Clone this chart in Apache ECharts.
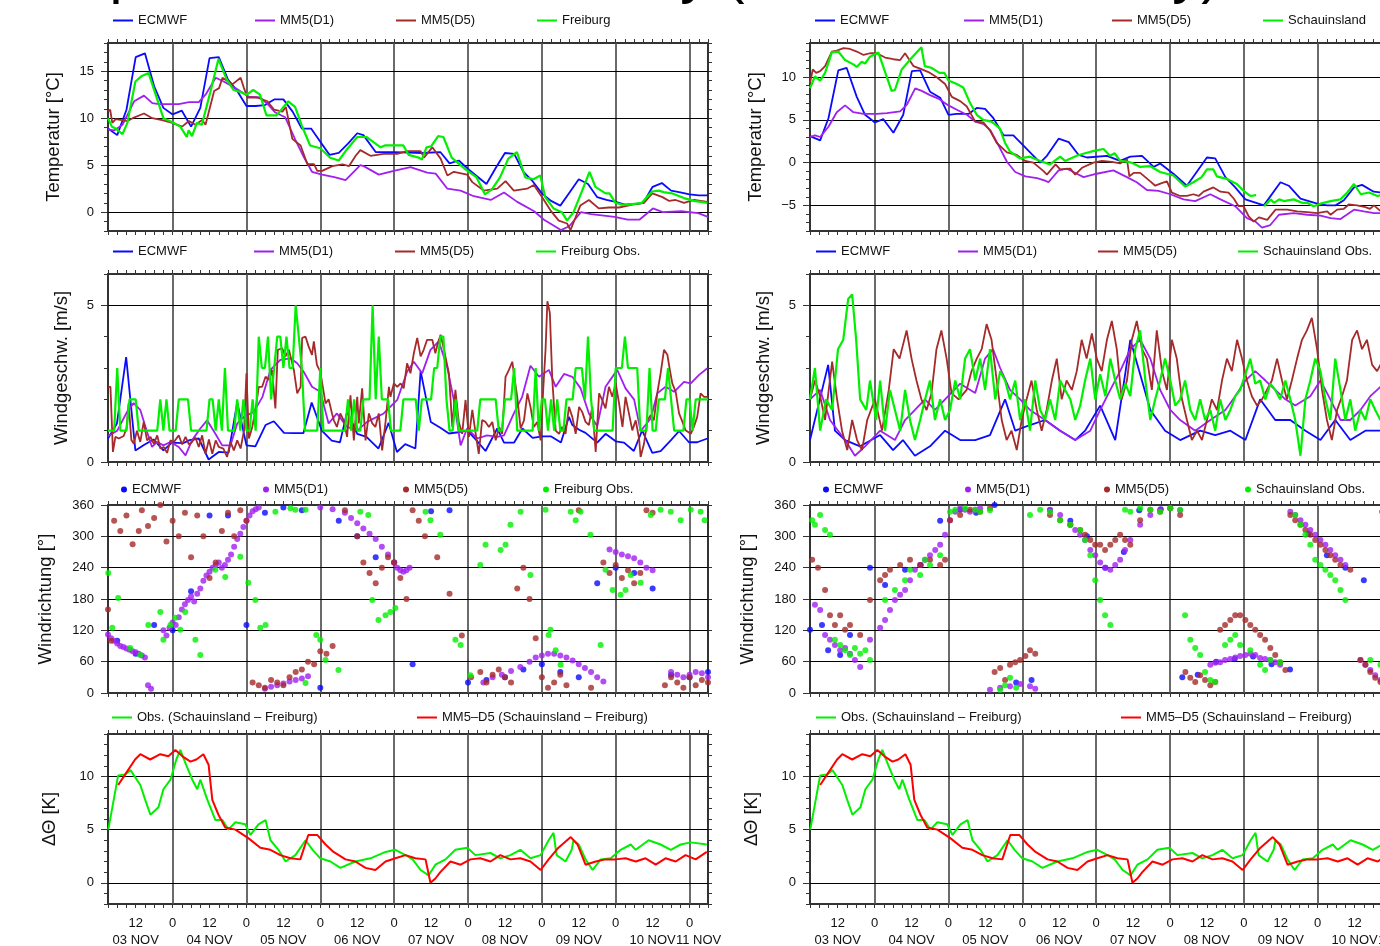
<!DOCTYPE html>
<html>
<head>
<meta charset="utf-8">
<script src="https://cdn.jsdelivr.net/npm/echarts@6/dist/echarts.min.js"></script>
<style>
  html, body { margin: 0; padding: 0; background: #fff; overflow: hidden; }
  #chart { width: 1380px; height: 946px; }
</style>
</head>
<body>
<div id="chart"></div>
<script>
// Time axis: hours since 03 NOV 00 UTC. Plots run from 03 NOV 03 UTC to 11 NOV 06 UTC.
const T_MIN = 3, T_MAX = 198;
const dayLabels = ['03 NOV', '04 NOV', '05 NOV', '06 NOV', '07 NOV', '08 NOV', '09 NOV', '10 NOV', '11 NOV'];
const dayLines = [24, 48, 72, 96, 120, 144, 168, 192];

// ---------- Temperature, Freiburg ----------
const ecmwfTempFr = [[3,8.9],[6,8.2],[9,10.9],[12,16.5],[15,16.9],[18,13.4],[21,11.1],[24,10.4],[27,10.8],[30,9.1],[33,11.1],[36,16.4],[39,16.5],[42,14.1],[45,12.9],[48,11.3],[51,11.3],[54,11.4],[57,12.0],[60,12.0],[63,10.7],[66,8.9],[69,8.9],[72,7.5],[75,6.1],[78,6.3],[81,7.3],[84,8.4],[86,8.2],[90,6.4],[96,6.4],[105,6.3],[111,6.4],[114,5.2],[117,5.5],[120,4.6],[123,3.8],[126,3.0],[129,4.7],[132,6.3],[135,6.2],[138,4.3],[141,3.3],[144,2.0],[147,1.2],[150,0.7],[153,2.1],[156,3.5],[159,3.0],[162,1.6],[165,1.3],[168,1.1],[171,0.8],[175,0.9],[177,1.0],[180,2.7],[183,3.1],[186,2.3],[189,2.1],[192,1.9],[195,1.8],[198,1.8]];
const mm5d1TempFr = [[3,8.8],[5,8.7],[7.7,9.3],[11.5,11.8],[14.7,12.4],[17.4,11.6],[19.6,11.5],[26,11.5],[29.3,11.7],[32.5,11.7],[34.7,12.5],[38,14.3],[40.6,13.9],[44.4,13.2],[48.7,12.3],[52.5,12.2],[55.2,11.4],[57.4,10.6],[60.6,10.1],[63.9,7.7],[66.6,5.9],[69.3,4.3],[72.6,4.0],[76.9,3.7],[80.2,3.4],[82.3,4.1],[85,5.0],[86.1,4.9],[91,4.0],[95.9,4.4],[101.3,4.8],[106.7,4.2],[109.5,4.1],[113.3,2.5],[117.6,2.3],[121.9,1.7],[127.4,1.3],[131.7,2.1],[136,1.1],[141.5,0.1],[144.7,-0.8],[150.2,-1.9],[152.9,-1.5],[156.7,0.0],[160,-0.2],[167.6,-0.5],[171.9,-0.8],[175.7,-0.8],[180.1,0.4],[183.3,0.0],[189.3,0.1],[194.8,-0.1],[198,-0.5]];
const mm5d5TempFr = [[3,10.7],[3.7,10.9],[4.4,9.5],[5.5,9.9],[7.5,9.8],[9.3,9.7],[11,10.0],[14.7,10.5],[17.4,10.0],[20.6,9.8],[23.9,9.5],[27.1,9.1],[29.3,9.7],[31.4,9.3],[33.6,9.8],[34.7,9.3],[37.5,12.9],[39.1,13.2],[40.2,14.3],[43.4,13.6],[46.1,14.3],[47.2,13.2],[48.3,12.2],[51.5,12.2],[54.8,11.8],[57,10.9],[59.7,10.7],[60.8,11.2],[62.9,7.8],[65.6,7.1],[67.8,5.1],[70,5.1],[71,4.4],[72.6,4.4],[75.9,4.9],[79.2,5.1],[81.3,4.9],[83.5,6.0],[85,6.6],[88.3,6.0],[92.6,6.2],[97,6.2],[100.2,6.5],[104.6,6.5],[105.7,5.8],[108.4,6.9],[111.1,5.7],[113.3,3.9],[115.4,4.3],[119.7,4.0],[121.4,3.2],[125.1,2.3],[129.5,2.5],[132.2,3.3],[134.9,2.3],[139.2,2.5],[141.4,2.9],[144.1,1.6],[146.8,0.2],[149.5,-0.9],[152.2,-1.2],[153.3,-1.9],[156.5,0.7],[159.3,1.3],[162.5,0.4],[165.8,0.5],[169.1,0.5],[173.4,0.8],[177.2,1.0],[179.9,2.0],[183.2,1.6],[185.4,1.2],[187.5,1.3],[190.2,1.0],[193.5,1.3],[197.8,1.1]];
const obsTempFr = [[3,10.0],[4.3,9.1],[5.5,8.9],[7.7,8.3],[9.3,9.5],[11.9,13.9],[14,14.5],[16.2,14.8],[17.8,13.2],[21,10.0],[23.8,9.6],[26.5,9.1],[28.6,8.0],[29.2,8.7],[30.3,8.1],[31.9,9.5],[33.5,9.3],[36.2,12.7],[38.9,16.3],[41.6,14.1],[43.8,13.0],[45.9,12.8],[48.1,12.5],[50.2,13.0],[52.4,12.5],[54.5,10.3],[57.8,10.3],[61.6,11.8],[63.8,11.2],[66,9.2],[68.7,7.1],[72,6.8],[75.2,5.8],[78,5.5],[80.7,6.7],[84,8.0],[87,8.0],[89.5,7.4],[91.6,6.9],[93,7.1],[99,7.1],[100.7,6.1],[104,5.8],[105,5.6],[106.5,6.9],[108,7.0],[110.3,8.1],[112,8.0],[114.7,5.8],[119,4.6],[122.8,3.7],[125.5,1.9],[127.7,2.4],[130.4,3.7],[133.1,5.7],[135.9,6.4],[138.6,3.7],[141.3,3.5],[143.5,3.9],[145.1,1.6],[147.8,0.4],[150.5,0.0],[152.2,-0.9],[154.3,0.0],[157.1,2.3],[159.5,4.3],[161.4,2.7],[164.7,2.0],[166,2.0],[167.9,1.0],[170,0.8],[172.2,0.8],[176.5,1.0],[179.8,2.2],[182,2.3],[184,2.1],[186.4,2.0],[190.2,1.5],[193.4,1.2],[197.8,1.0]];

// ---------- Temperature, Schauinsland ----------
const ecmwfTempSch = [[3,3.1],[6.3,2.6],[9,5.2],[12.2,10.8],[14.9,11.1],[18.2,7.7],[20.9,5.6],[24.1,4.7],[26.8,5.1],[30.1,3.5],[33.3,5.6],[36.1,10.7],[38.8,10.8],[42,8.3],[45.3,7.6],[48,5.6],[50.7,5.7],[54.5,5.7],[57.2,6.4],[59.9,6.3],[62.6,5.2],[65.9,3.2],[69.1,3.2],[77.8,0.0],[80,0.8],[83.8,2.8],[87.1,2.4],[90.3,0.9],[93,0.6],[99.5,0.8],[103.8,0.2],[107.1,0.7],[110.9,0.8],[114.7,-0.5],[116.8,-0.1],[121.1,-1.3],[125.5,-2.7],[132,0.6],[134.7,0.5],[138,-1.7],[141.2,-2.9],[144.5,-4.3],[150.5,-5.0],[155.9,-2.3],[158.6,-2.7],[162.4,-4.2],[167.8,-4.8],[171.1,-5.0],[173.8,-5.0],[176.5,-4.4],[179.8,-2.9],[182.4,-2.6],[186.2,-3.4],[189,-3.5],[192,-3.6],[195,-3.6],[198,-3.7]];
const mm5d1TempSch = [[3,3.0],[4.6,3.2],[6.3,3.0],[9,4.2],[11.7,5.9],[14.4,6.7],[17.1,5.9],[20.4,5.7],[24.7,5.7],[28,5.8],[32.3,6.0],[34.5,6.8],[37.2,8.7],[39.3,8.4],[42,7.9],[44.7,7.5],[48,6.7],[51.2,6.1],[54,5.6],[56.7,4.8],[59.4,4.5],[61.6,3.8],[64.3,2.0],[67,0.1],[69.7,-1.1],[73,-1.6],[76.8,-1.8],[79.4,-2.1],[80.5,-2.3],[83.8,-0.9],[86.5,-0.7],[88.6,-1.1],[91.9,-1.7],[96.2,-1.3],[101.6,-0.9],[106,-1.7],[109.2,-2.3],[112.5,-3.2],[116.3,-3.3],[120.1,-3.7],[124.4,-4.3],[128.2,-4.5],[133.1,-3.7],[136.4,-4.3],[141.2,-5.1],[145,-6.5],[147.8,-6.9],[149.9,-7.6],[152.6,-7.3],[155.4,-6.1],[160.2,-5.9],[164.6,-6.1],[168.9,-6.2],[172.2,-6.5],[175.4,-6.6],[179.8,-5.5],[183,-5.7],[186.3,-5.9],[188.5,-5.9],[192,-6.0],[195,-6.1],[198,-6.0]];
const mm5d5TempSch = [[3,9.3],[3.9,10.9],[5,10.5],[6.3,10.7],[7.9,11.3],[10.1,13.0],[11.7,13.1],[13.9,13.4],[16,13.3],[18.2,13.0],[20.4,12.6],[22.5,12.8],[24.7,12.8],[27.4,12.3],[30.1,12.1],[32.3,12.0],[33.9,12.8],[36.6,11.3],[38.8,11.0],[41.5,10.6],[44.2,10.0],[46.9,9.2],[49.1,7.7],[51.8,7.2],[53.9,6.6],[56.7,4.8],[59.4,4.7],[61.6,3.7],[63.7,2.3],[67,1.2],[70.2,0.9],[72.9,0.2],[75.6,0.0],[78.9,-1.0],[80,-1.4],[82.8,-0.2],[84.3,-0.8],[87.6,-0.7],[89.2,-1.4],[91.4,-0.6],[95.1,0.0],[97.9,0.2],[101.1,0.1],[103.8,-0.1],[106,0.4],[106.8,-1.6],[108.2,-1.2],[110.3,-1.2],[113.6,-2.2],[115.2,-2.7],[117.3,-2.4],[119,-2.2],[120.6,-3.5],[123.3,-3.9],[125.5,-3.9],[127.6,-3.7],[129.3,-3.9],[130.9,-3.4],[134.1,-2.9],[136.4,-3.4],[139,-3.5],[140.7,-4.2],[142.3,-5.1],[143.9,-5.1],[145.6,-6.3],[147.2,-6.9],[148.9,-6.4],[151.6,-6.7],[154.3,-5.5],[158.1,-5.5],[161.3,-5.7],[164.6,-5.8],[167.8,-5.9],[171.1,-5.7],[172.2,-6.1],[174.3,-5.5],[176.5,-5.4],[178.1,-4.9],[180.8,-5.0],[183.5,-5.2],[185,-5.4],[186.3,-5.0],[188.5,-5.7],[192,-5.5],[195,-5.6],[198,-5.7]];
const obsTempSch = [[3,8.7],[4.6,10.1],[6.3,9.6],[7.9,10.5],[10.1,12.9],[12.2,13.0],[14.4,12.0],[17.1,11.5],[18.2,11.2],[19.8,11.8],[20.9,11.6],[22.5,12.4],[25.2,12.9],[27.9,10.1],[29.5,8.4],[30.6,8.5],[32.8,10.9],[35.4,12.0],[39.2,13.5],[40.3,11.3],[42.4,11.1],[45.1,10.5],[46.7,10.5],[48,9.6],[50.7,9.2],[52.8,8.8],[55,7.0],[57.2,5.6],[59.3,5.0],[62,4.8],[64.7,4.0],[66.4,2.3],[68,1.3],[71.2,0.5],[74.5,0.7],[77.8,0.2],[81,-0.2],[84.3,0.7],[85.9,0.2],[89.7,0.8],[92.4,1.1],[95.6,1.4],[98.4,1.6],[100.5,0.8],[102,1.1],[103.8,0.2],[106.5,0.1],[108.1,-0.1],[110.3,-0.5],[113.5,-0.4],[116.8,-1.1],[121.1,-1.5],[124.9,-2.8],[127.6,-2.3],[130.3,-1.7],[132,-0.8],[134.1,-0.8],[135.2,-1.6],[138.5,-1.9],[141.7,-2.5],[143.9,-3.3],[146.1,-3.9],[148,-3.8],[149.3,null],[150.6,-5.1],[152.7,-4.3],[153.8,-4.7],[155.5,-4.3],[157,-4.5],[160.2,-4.3],[162.9,-4.7],[164.6,-4.7],[166.7,-5.1],[168.9,-4.8],[172.2,-4.5],[175.4,-4.3],[177.6,-3.5],[179.8,-2.5],[182,-3.7],[184.7,-3.5],[187.4,-3.9],[188.5,-3.8],[192,-3.9],[195,-4.0],[198,-4.0]];

// ---------- Wind speed, Freiburg ----------
const ecmwfWindFr = [[3,0.75],[5.9,1.23],[8.9,3.35],[11.9,0.37],[14.8,0.55],[17.8,0.72],[21,0.37],[23.8,0.62],[27.4,0.6],[29.5,0.7],[32.5,0.75],[35.7,0.08],[39,0.32],[42.2,0.3],[45,1.9],[48,0.53],[50.9,0.5],[54.2,1.18],[56.9,1.3],[60.2,0.93],[63.4,0.92],[66.5,0.92],[69.2,1.9],[72.5,1.0],[75.7,0.68],[78.4,0.63],[80.7,1.6],[84,0.9],[87,0.8],[90.9,0.43],[94.2,1.25],[96.9,0.32],[99.6,0.57],[102.9,0.43],[104.6,2.9],[107.9,1.28],[110.9,1.1],[113.8,0.91],[116.8,0.95],[119.8,1.0],[122.7,0.7],[125.7,0.35],[129.5,1.07],[131.7,0.62],[135,0.62],[137.7,1.07],[141,0.77],[144.2,0.82],[146.9,0.82],[150.2,0.62],[152.8,1.44],[153.9,1.18],[156.1,1.03],[158.2,0.93],[162,0.62],[164.7,0.9],[168,0.66],[170.7,0.62],[173.9,0.35],[176.6,1.01],[179.9,0.29],[182.6,0.35],[185.9,0.69],[188.6,0.99],[191.8,0.63],[194.5,0.63],[197.8,0.75]];
const mm5d1WindFr = [[3,0.83],[6,1.0],[9.2,1.6],[11.3,1.88],[13.5,1.66],[15.7,0.96],[17.3,0.48],[19,0.64],[21,0.53],[23.3,0.64],[26,0.48],[28.2,0.21],[30.3,0.69],[33,1.07],[35.2,1.33],[37.9,0.9],[40.1,0.53],[42.8,0.53],[45,1.23],[47.2,1.44],[50.4,1.6],[53.2,2.08],[55.8,2.94],[59,3.26],[62.3,3.31],[64.5,3.15],[66.6,2.88],[69.3,2.4],[72,2.24],[74.7,1.23],[77.4,1.55],[80.7,1.12],[84,1.0],[87.2,1.28],[92.6,1.55],[97,1.98],[100.2,2.88],[102.4,3.2],[105.1,2.83],[107.8,3.58],[110.5,3.85],[113.2,3.04],[115.4,1.98],[117.6,0.53],[119.7,1.07],[123,0.75],[126.2,0.85],[129.5,0.8],[131.7,0.85],[134.9,1.55],[137.6,2.08],[140.3,3.07],[143.1,2.72],[146.3,2.94],[148.5,2.4],[151.2,2.81],[153.9,2.72],[156.6,2.35],[159.3,1.55],[162,1.15],[164.7,2.4],[168.5,2.94],[171.2,2.35],[174,1.99],[176.1,0.99],[179.4,1.39],[181.5,2.19],[184.2,2.4],[187,2.24],[190.2,2.56],[192.4,2.51],[195.1,2.78],[197.8,2.99]];
const mm5d5WindFr = [[3,2.4],[3.8,2.4],[4.6,0.32],[5.4,0.8],[6.5,0.75],[8.1,0.83],[9,1.07],[9.7,1.87],[10.6,0.7],[11.4,0.58],[12.4,1.0],[13.5,0.64],[14.6,1.28],[15.7,0.69],[16.8,0.8],[17.9,0.58],[19,0.85],[20,0.43],[21.1,0.48],[22.2,0.29],[23.3,0.69],[24.4,0.64],[26,0.85],[27.1,0.56],[28.2,0.8],[29.3,0.56],[30.3,0.64],[31.4,0.78],[32.5,0.48],[33.6,0.85],[34.7,0.26],[35.8,0.72],[36.9,0.26],[38,0.69],[39,0.48],[40.5,0.43],[41.7,0.16],[42.8,0.64],[43.9,0.37],[45,0.69],[46.1,0.43],[47.2,1.0],[48,2.83],[48.8,0.75],[49.9,1.12],[51,1.71],[52,2.4],[53.1,2.4],[54.2,2.72],[55.3,2.62],[56.3,2.94],[57.4,1.71],[58.2,3.58],[59.6,3.63],[60.7,3.37],[61.8,3.58],[63.4,2.94],[64.5,2.19],[65.6,2.4],[66.1,3.96],[67.2,4.0],[68.2,3.69],[69.3,3.42],[69.9,3.85],[70.9,3.1],[72,2.88],[72.6,2.83],[73.7,1.87],[74.7,2.0],[75.8,1.55],[76.4,1.33],[77.4,1.12],[78.5,1.55],[79.6,1.33],[80.7,0.8],[81.8,2.13],[82.9,0.69],[84,2.08],[84.5,1.23],[85.6,2.35],[86.7,0.69],[87.8,1.55],[88.9,1.23],[89.9,1.12],[91,1.55],[92.1,0.37],[93.2,1.28],[94.3,2.4],[94.8,2.08],[95.9,2.51],[97,2.4],[98.1,2.51],[99.1,2.35],[100.2,3.15],[101.3,2.83],[102.4,3.47],[103.5,3.96],[104.6,3.37],[105.6,3.58],[106.7,3.9],[108.4,3.9],[109.4,3.47],[110.2,3.8],[111.1,4.06],[112.2,3.58],[113.8,2.83],[114.9,1.12],[115.9,2.3],[117,1.28],[118.1,0.9],[119.2,1.98],[120.3,0.8],[121.4,1.66],[122.5,0.9],[123.5,0.26],[124.6,1.34],[125.7,1.28],[126.8,1.12],[127.9,1.28],[129,0.69],[130.1,1.12],[131.1,0.9],[132.2,2.72],[133.3,2.94],[134.4,3.2],[134.9,2.83],[136,2.08],[137.1,1.07],[138.2,1.33],[139.3,2.19],[140.3,1.76],[141.4,1.12],[142.5,1.28],[143.6,0.69],[144.5,2.4],[145.2,3.58],[145.8,5.13],[146.6,4.76],[147.4,2.62],[148.5,1.0],[149.6,0.9],[150.6,1.12],[151.7,0.9],[152.8,1.76],[153.9,1.44],[155,0.9],[156.1,1.76],[157.1,1.6],[158.2,1.28],[159.3,1.18],[160.4,1.76],[161.5,0.32],[162.6,2.19],[163.6,1.98],[164.7,1.71],[165.8,2.4],[166.9,2.08],[168,2.51],[169.1,1.87],[170.2,1.12],[171.2,2.08],[172.3,1.55],[173.4,1.01],[174.5,1.33],[175.6,0.75],[176.1,0.16],[177.2,0.58],[178.3,1.33],[179.4,1.5],[180.4,1.33],[181.5,2.19],[182.6,2.83],[183.7,3.58],[184.8,3.42],[185.6,2.94],[186.4,2.51],[187.5,2.24],[188.6,1.55],[189.7,1.28],[190.7,1.01],[192.4,0.9],[193.4,1.12],[194.5,1.44],[195.6,2.19],[196.7,2.08],[198,2.08]];
// hourly station reports from 03 NOV 03 UTC, whole m/s
const obsWindFrStart = 3;
const obsWindFr = [1,1,1,3,1,1,1,2,2,2,1,1,1,1,1,1,1,2,1,2,1,1,1,2,2,2,2,1,1,1,1,1,1,2,2,1,2,1,3,1,1,1,2,1,2,1,1,2,1,4,3,3,4,2,3,4,4,3,4,3,3,5,4,3,1,1,1,1,1,3,1,1,1,1,1,1,1,1,2,1,2,1,1,2,2,2,5,2,4,2,2,2,1,1,1,1,2,2,2,2,2,1,2,2,2,2,3,3,4,4,2,1,1,2,1,1,1,1,1,1,1,2,2,2,2,2,2,1,1,2,2,2,3,1,1,1,1,1,1,3,1,2,2,1,2,1,2,1,1,2,2,2,3,3,3,2,4,2,1,1,1,1,1,1,1,3,3,3,4,3,3,3,3,1,1,1,3,1,1,2,2,2,3,2,1,1,1,1,2,2,1,2,2,2,2,2];

// ---------- Wind speed, Schauinsland ----------
const ecmwfWindSch = [[3,0.7],[8.9,3.1],[11.1,1.0],[14.4,0.7],[19.3,0.5],[25.8,0.86],[30,0.38],[33.2,0.7],[37.1,0.2],[42,0.5],[46.9,1.0],[51.8,0.7],[56.7,0.7],[61.5,0.86],[66.4,2.0],[69.7,1.0],[74.5,1.18],[79.4,1.34],[84.3,1.0],[89.2,0.7],[92.4,1.0],[97.3,1.8],[102.2,0.7],[107.1,3.9],[113.6,1.66],[118.4,1.0],[123.3,0.7],[129.8,1.0],[134.7,0.86],[139.6,1.0],[144.5,0.7],[149.3,2.0],[154.2,1.34],[159.1,1.34],[164,1.0],[168.9,0.7],[173.7,1.34],[178.6,0.7],[183.5,1.0],[188.4,1.0],[193.2,1.1],[198,1.0]];
const mm5d1WindSch = [[3,2.0],[6.3,2.3],[9.5,1.34],[14.4,0.7],[17.6,0.2],[20.9,0.5],[25.8,1.0],[30.6,0.7],[33.9,1.34],[37.1,1.66],[40.4,2.0],[43.6,1.66],[46.9,2.0],[51.8,2.5],[56.7,2.2],[59.9,3.3],[62.5,3.6],[64.8,3.0],[68,2.3],[71.3,2.0],[74.5,1.66],[79.4,1.34],[84.3,1.0],[89.2,0.7],[94.1,1.0],[97.3,1.66],[100.6,2.3],[103.8,2.9],[107.1,3.6],[110.3,3.9],[113.6,3.3],[116.8,2.3],[120.1,1.66],[123.3,1.34],[128.2,1.0],[133.1,1.34],[138,1.66],[141.2,2.1],[144.5,2.6],[147.7,2.9],[151,2.6],[154.2,2.3],[157.5,2.0],[160.7,1.8],[165.6,2.1],[168.9,2.6],[172.1,2.0],[175.4,1.34],[178.6,1.34],[181.9,1.66],[185.1,2.1],[188.4,2.4],[192,2.6],[195,2.7],[198,2.5]];
const mm5d5WindSch = [[3,2.0],[4.6,2.6],[6.3,2.1],[7.9,1.34],[10.2,3.2],[11.8,2.0],[13.4,1.0],[15.1,0.38],[16.7,1.34],[18.3,0.7],[19.9,0.38],[21.6,1.34],[24.1,2.0],[26.4,1.0],[28.6,2.3],[30.2,3.6],[32.1,3.3],[34.4,4.2],[36,3.3],[37.6,2.6],[39.2,2.0],[40.9,1.66],[42.5,2.2],[44.1,3.6],[45.7,4.2],[47.4,3.3],[49,2.2],[51.3,2.0],[53.9,2.3],[55.5,2.9],[57.2,3.3],[58.8,3.6],[60.4,4.4],[62,3.9],[63.7,2.6],[65.3,1.34],[66.9,0.7],[68.5,1.0],[70.2,0.38],[71.8,1.34],[73.4,2.0],[75,2.6],[76.7,1.66],[78.3,1.0],[79.9,1.66],[81.6,2.6],[83.2,3.3],[84.8,2.0],[86.4,2.6],[88.1,2.3],[89.7,2.9],[91.3,3.9],[92.9,3.3],[94.6,4.1],[96.2,3.3],[97.8,2.9],[99.5,3.9],[101.1,4.5],[102.7,3.6],[104.3,2.0],[106,2.6],[107.6,3.9],[109.2,4.5],[110.9,3.6],[112.5,3.3],[114.1,2.3],[115.7,4.2],[117.4,2.9],[119,2.3],[120.6,3.9],[122.2,3.3],[123.9,2.0],[125.5,1.34],[127.1,0.7],[128.8,1.0],[130.4,0.7],[132,1.34],[133.6,2.0],[135.3,1.66],[136.9,2.6],[138.5,3.3],[140.1,2.9],[141.8,3.9],[143.4,3.3],[145,2.6],[146.6,2.1],[148.3,1.8],[149.9,2.0],[151.5,2.3],[153.1,2.6],[154.8,3.3],[156.4,2.6],[158,2.0],[159.6,2.6],[161.3,3.3],[162.9,3.9],[164.5,4.2],[166.1,4.6],[167.8,3.6],[169.4,2.3],[171,1.34],[172.6,0.7],[174.3,1.66],[175.9,2.1],[177.5,2.6],[179.2,3.9],[180.8,4.2],[182.4,3.6],[184,3.9],[185.7,3.1],[187.3,2.9],[190,3.4],[193,3.0],[196,3.3],[198,3.1]];
const obsWindSch = [[3,2.0],[4.6,3.0],[6.3,1.0],[8.2,2.0],[10.2,1.66],[12.1,3.6],[13.8,3.9],[15.4,5.2],[16.7,5.35],[18,3.9],[19.3,2.0],[21.3,1.66],[22.5,2.6],[24.5,1.34],[25.8,2.6],[27.4,1.0],[29,2.3],[30.6,1.66],[32.3,1.0],[33.9,2.3],[35.5,1.34],[37.1,0.7],[38.8,1.34],[40.4,2.0],[42,2.6],[43.6,1.34],[45.3,2.0],[46.9,1.34],[48.5,1.66],[50.2,2.6],[51.8,2.0],[53.4,3.3],[55,3.6],[56.7,2.6],[58.3,3.3],[59.9,2.3],[61.5,3.6],[63.2,2.0],[64.8,2.9],[66.4,2.6],[68,2.0],[69.7,2.6],[71.3,1.34],[72.9,2.0],[74.5,1.0],[76.2,2.6],[77.8,1.66],[79.4,1.34],[81,2.0],[82.7,1.34],[84.3,2.6],[85.9,2.3],[87.6,2.0],[89.2,1.34],[90.8,1.8],[92.4,2.6],[94.1,3.3],[95.7,2.0],[97.3,2.8],[99,2.1],[100.6,3.3],[102.2,2.6],[103.8,2.0],[105.5,2.5],[107.1,2.1],[108.7,3.6],[110.3,4.2],[112,2.6],[113.6,1.34],[115.2,2.0],[116.8,2.6],[118.4,3.3],[120.1,2.6],[121.7,1.8],[123.3,2.0],[124.9,2.6],[126.6,1.66],[128.2,1.34],[129.8,2.0],[131.4,1.34],[133.1,1.66],[134.7,1.0],[136.3,2.0],[138,1.34],[139.6,1.66],[141.2,2.1],[142.8,2.3],[144.5,2.8],[146.1,3.3],[147.7,2.5],[149.3,2.6],[151,2.0],[152.6,2.5],[154.2,2.3],[155.8,2.0],[157.5,2.6],[159.1,2.0],[160.7,1.34],[162.4,0.2],[164,2.0],[165.6,2.6],[167.2,3.3],[168.9,2.9],[170.5,2.0],[172.1,1.34],[173.7,3.3],[175.4,2.3],[177,1.34],[178.6,2.0],[180.2,1.0],[181.9,1.66],[183.5,1.34],[185.1,2.0],[186.7,1.66],[188.4,1.34],[191,1.8],[194,1.3],[198,1.5]];

// ---------- Wind direction, Freiburg (degrees) ----------
const ecmwfDirFr = [[6,100],[12,75],[18,130],[24,120],[30,195],[36,340],[42,340],[48,130],[54,345],[60,355],[66,350],[72,10],[78,330],[84,300],[90,260],[96,250],[102,55],[108,348],[114,350],[120,20],[126,25],[132,30],[138,45],[144,55],[150,40],[156,30],[162,210],[168,240],[174,230],[180,200],[186,35],[192,30],[198,40]];
const mm5d1DirFr = [[3,112],[4,105],[5,100],[6,95],[7,90],[8,88],[9,85],[10,83],[11,80],[12,78],[13,75],[14,72],[15,68],[16,15],[17,8],[21,120],[22,110],[23,125],[24,135],[25,130],[26,145],[27,160],[28,170],[29,178],[30,185],[31,175],[32,190],[33,200],[34,215],[35,225],[36,232],[37,240],[38,245],[39,250],[40,240],[41,245],[42,255],[43,265],[44,280],[45,295],[46,305],[47,318],[48,330],[49,340],[50,348],[51,352],[52,355],[54,8],[56,12],[58,15],[60,18],[62,22],[64,25],[66,28],[68,32],[72,355],[76,352],[80,345],[82,335],[84,325],[86,315],[88,305],[90,295],[92,280],[94,265],[96,250],[97,240],[98,235],[99,232],[100,235],[101,240],[125,20],[128,30],[131,35],[134,42],[137,50],[140,60],[142,68],[144,72],[146,75],[148,75],[150,72],[152,68],[154,62],[156,55],[158,48],[160,40],[162,30],[164,22],[166,275],[168,270],[170,265],[172,262],[174,258],[176,250],[178,240],[180,235],[186,40],[188,35],[190,30],[192,35],[194,40],[196,38],[198,30]];
const mm5d5DirFr = [[3,160],[4,100],[5,330],[7,310],[9,340],[11,285],[13,310],[14,350],[16,320],[18,335],[20,360],[22,290],[24,330],[26,300],[28,345],[30,260],[32,340],[34,300],[36,220],[38,250],[40,310],[42,345],[44,300],[46,350],[48,330],[50,20],[52,15],[54,10],[56,25],[58,20],[60,15],[62,30],[64,40],[66,45],[68,60],[70,55],[72,80],[74,75],[76,90],[80,350],[84,300],[86,250],[88,230],[90,210],[92,240],[94,260],[96,250],[98,220],[100,180],[102,350],[104,330],[106,300],[110,260],[114,190],[118,110],[121,30],[124,40],[126,20],[128,35],[130,45],[132,30],[134,20],[136,200],[138,240],[140,180],[142,105],[144,30],[146,10],[148,20],[150,35],[152,15],[156,350],[160,10],[164,250],[166,230],[168,245],[170,220],[172,235],[174,210],[176,230],[178,350],[180,345],[184,15],[186,30],[188,20],[190,10],[192,30],[194,15],[196,25],[198,20]];
const obsDirFr = [[3.1,230],[4.4,125],[6.3,182],[10.2,86],[13.5,73],[16.1,130],[20,155],[21,102],[23.3,130],[24.9,144],[26.5,121],[28.1,155],[31.4,102],[33,73],[37.9,236],[41.1,222],[46,261],[48.6,211],[50.9,178],[52.5,125],[54.2,130],[57.4,347],[62.3,354],[63.9,351],[67.2,351],[70.7,111],[72,102],[73.7,63],[67.2,19],[77.9,44],[85,347],[87.6,341],[90.9,140],[93.2,149],[94.8,155],[96.4,163],[88.9,178],[106.2,347],[107.8,331],[111,303],[115.9,102],[117.6,92],[120.8,34],[124,245],[125.7,284],[130.6,274],[132.2,284],[133.8,322],[137.1,347],[140.3,226],[145.2,351],[146.2,111],[146.8,121],[148.5,82],[150.1,54],[153.4,347],[155,331],[156.6,347],[159.8,303],[163.1,92],[164.7,236],[167,197],[169.6,188],[171.2,197],[172.9,226],[176.1,211],[179.4,341],[182.6,351],[185.9,347],[189.1,331],[192.4,351],[195.6,347],[196.9,331]];

// ---------- Wind direction, Schauinsland (degrees) ----------
const ecmwfDirSch = [[3,121],[6.9,130],[8.9,82],[12.8,73],[16,111],[22.5,240],[27.4,207],[33.9,236],[39,245],[45.3,330],[51.8,351],[57,345],[63,360],[70,20],[75,25],[81,350],[87.6,330],[93,300],[99,240],[105,270],[110,350],[117,352],[124,30],[129,35],[135,60],[141,65],[147,70],[153,55],[159,45],[165,305],[171,264],[177,240],[183,216],[189,347],[195,350]];
const mm5d1DirSch = [[4.6,169],[6.3,159],[7.9,111],[9.5,102],[11.1,92],[12.8,82],[14.4,86],[16,75],[17.6,63],[19.3,50],[22.5,102],[25.8,125],[27.4,140],[29,159],[30.6,178],[32.3,188],[33.9,197],[35.5,216],[37.1,236],[38.8,245],[40.4,255],[42,264],[43.7,274],[45.3,284],[46.9,303],[48.5,331],[50.2,347],[51.8,354],[53.4,351],[55,347],[56.7,351],[58.3,354],[61.5,6],[64.8,10],[68,13],[71.3,17],[74.5,13],[76.2,8],[81,351],[84.3,341],[87.6,322],[89.2,312],[90.8,303],[92.4,293],[94.1,274],[95.7,264],[97.3,250],[98.9,240],[100.6,236],[102.2,245],[103.8,255],[105.4,274],[107.1,293],[110.3,322],[113.6,341],[116.8,351],[120.1,354],[123.3,350],[133.1,54],[134.7,58],[136.3,59],[137.9,63],[139.6,65],[141.2,68],[142.8,71],[144.5,73],[146.1,75],[147.7,73],[149.3,67],[150.9,65],[152.6,63],[154.2,59],[155.8,54],[159.1,347],[160.7,341],[162.4,331],[164,322],[165.6,312],[167.2,303],[168.9,293],[170.5,284],[172.1,274],[173.7,264],[175.4,255],[177,245],[181.9,63],[183.5,54],[185.1,44],[186.7,34],[188.4,25]];
const mm5d5DirSch = [[3.7,255],[5.6,240],[7.9,197],[9.5,149],[11.1,130],[12.8,149],[14.4,121],[16,130],[19.3,111],[22.5,178],[25.8,216],[27.4,226],[29,236],[32.3,245],[35.5,255],[38.8,245],[42,255],[45.3,245],[46.9,255],[48.5,331],[51.8,341],[55,351],[58.3,347],[61.5,354],[63,40],[64.8,48],[66.4,25],[68,54],[69.7,59],[71.3,63],[73,71],[74.5,82],[76.2,75],[81,341],[84.3,331],[87.6,322],[90.8,312],[92.4,303],[94.1,293],[95.7,284],[97.3,284],[98.9,274],[100.6,284],[102.2,293],[103.8,303],[105.4,293],[107.1,284],[110.3,331],[113.6,351],[116.8,347],[120.1,354],[123.3,341],[125,40],[126.6,29],[128.2,21],[129.8,34],[131.4,25],[133.1,15],[134.7,21],[136.3,121],[137.9,130],[139.6,140],[141.2,149],[142.8,149],[144.5,140],[146.1,130],[147.7,121],[149.3,111],[150.9,102],[152.6,86],[154.2,73],[155.8,59],[157.5,44],[159.1,341],[160.7,331],[162.4,322],[164,312],[165.6,303],[167.2,293],[168.9,284],[170.5,274],[172.1,264],[173.7,255],[175.4,245],[178.6,236],[181.9,63],[183.5,54],[185.1,40],[186.7,29],[188.4,21]];
const obsDirSch = [[3.7,331],[4.6,322],[6.3,341],[7.9,312],[9.5,303],[11.1,102],[12.8,92],[14.4,82],[16,73],[17.6,86],[19.3,75],[21,82],[22.5,63],[27.4,178],[30.6,197],[33.9,216],[35.5,236],[38.8,226],[40.4,255],[42,245],[45.3,264],[48.5,347],[50.2,351],[53.4,354],[56.7,351],[58.3,347],[61.5,350],[64.8,6],[66.4,15],[68,29],[70,10],[74.5,341],[77.8,351],[81,347],[84.3,331],[87.6,322],[90.8,312],[92.4,293],[94.1,264],[95.7,216],[97.3,178],[98.9,149],[100.6,130],[105.4,351],[107.1,347],[110.3,354],[113.6,351],[116.8,347],[120.1,354],[123.3,351],[124.9,149],[126.6,102],[128.2,86],[129.8,73],[131.4,40],[133.1,25],[134.7,21],[137.9,92],[139.6,102],[141.2,111],[142.8,92],[146.1,82],[149.3,54],[150.9,44],[152.6,63],[155.8,59],[160.7,341],[162.4,322],[164,303],[165.6,284],[167.2,255],[168.9,245],[170.5,236],[172.1,226],[173.7,216],[175.4,197],[177,178],[185.1,63],[188.4,54]];

// ---------- Potential temperature difference Schauinsland - Freiburg (K) ----------
const obsDTheta = [[3.1,5.0],[6.3,10.1],[8.6,10.2],[10.3,10.6],[13.5,9.2],[15.1,7.8],[16.8,6.4],[19.4,7.1],[21,8.8],[23.3,9.7],[25.2,11.6],[26.5,12.5],[28.4,11.1],[30.4,9.7],[32,8.8],[33,9.7],[35.3,7.8],[37.9,5.9],[40.2,5.9],[42.1,5.0],[44.4,5.7],[47.6,5.5],[49.3,4.5],[51.9,5.5],[54.2,5.9],[55.8,4.0],[58.4,3.1],[60.7,2.0],[63.9,2.6],[67.2,4.0],[69.5,3.1],[72,2.3],[75.3,2.0],[78.5,1.4],[83.4,2.0],[88.3,2.3],[93.2,2.9],[96.4,3.1],[99.7,2.6],[102,2.2],[104.6,1.2],[107.2,0.7],[109.4,1.7],[112.7,2.2],[115.9,3.1],[119.8,3.3],[122.4,2.6],[127.3,2.8],[130.5,2.3],[133.8,2.6],[137,3.1],[140.3,2.3],[143.6,2.6],[146.2,4.0],[147.8,4.7],[148.8,2.6],[151.7,2.0],[153.7,3.1],[154.3,4.0],[156,3.6],[158.2,2.2],[160.5,1.2],[163.1,2.2],[166.4,2.3],[169.6,3.1],[172.9,3.6],[174.5,3.1],[178.7,4.0],[182.6,3.6],[185.9,3.1],[189.1,3.6],[192.4,3.8],[197.6,3.6]];
const mm5DTheta = [[6.3,9.2],[8.6,10.2],[11.8,11.6],[13.5,12.1],[16.7,11.6],[20,12.1],[22.6,11.9],[24.9,12.5],[27.2,11.9],[29.8,11.4],[31.7,11.6],[34,12.1],[35.7,11.1],[36.9,7.8],[38.9,6.4],[41.1,5.2],[44.4,5.0],[48.6,4.2],[52.5,3.3],[55.8,3.1],[59,2.6],[62.3,2.3],[65.5,2.2],[68.1,4.5],[71,4.5],[73.7,3.6],[76.3,2.9],[80.2,2.2],[83.4,2.0],[86.7,1.4],[89.9,1.2],[93.2,2.0],[96.4,2.3],[99.7,2.6],[102.9,2.3],[106.2,2.2],[107.8,0.0],[109.4,0.4],[111,1.0],[114.3,2.0],[117.6,1.7],[120.8,2.2],[124,2.3],[127.3,2.0],[130.5,2.6],[133.8,2.2],[137,2.3],[140.3,2.0],[143.6,1.2],[146.2,2.2],[149.4,3.3],[153.4,4.3],[155.6,3.6],[158.2,1.7],[161.5,2.0],[164.7,2.2],[168,2.2],[171.2,2.3],[174.5,2.0],[177.7,2.3],[181,1.7],[184.2,2.3],[187.5,2.0],[190.7,2.6],[194,2.2],[197.6,2.9]];

// ---------- layout & styling ----------
const FONT = 'Liberation Sans, Arial, sans-serif';
const C_ECMWF = '#0a0aff', C_D1 = '#a020f0', C_D5 = '#a52a2a', C_OBS = '#00f000', C_RED = '#ff0000';
const COL_LEFT = [108, 810];
const PLOT_W = 600;
const ROWS = [
  { top: 43,  height: 188 },
  { top: 274, height: 188 },
  { top: 505, height: 188 },
  { top: 734, height: 170 }
];

const grids = [], xAxes = [], yAxes = [], series = [], legends = [];

function addPanel(col, row, cfg) {
  const g = grids.length;
  grids.push({ left: COL_LEFT[col], top: ROWS[row].top, width: PLOT_W, height: ROWS[row].height,
    containLabel: false, outerBoundsMode: 'none' });
  const frame = { show: true, onZero: false, lineStyle: { color: '#333', width: 2 } };
  const tick = { show: true, inside: false, length: 4, lineStyle: { color: '#333', width: 1 } };
  const xi = xAxes.length;
  const isBottom = row === 3;
  xAxes.push({
    gridIndex: g, type: 'value', min: T_MIN, max: T_MAX, interval: 3, position: 'bottom',
    axisLine: frame, axisTick: tick, splitLine: { show: false },
    axisLabel: {
      show: isBottom, interval: 0, margin: 11, fontSize: 13, lineHeight: 17, color: '#111', fontFamily: FONT,
      hideOverlap: false,
      formatter: v => {
        if (v % 24 === 12) return '12\n' + dayLabels[(v - 12) / 24];
        if (v % 24 === 0) return v === 192 ? '0\n{s|' + dayLabels[8] + '}' : '0';
        return '';
      },
      rich: { s: { fontSize: 13, lineHeight: 17, color: '#111', fontFamily: FONT, padding: [0, 0, 0, 18] } }
    }
  });
  xAxes.push({
    gridIndex: g, type: 'value', min: T_MIN, max: T_MAX, interval: 3, position: 'top',
    axisLine: frame, axisTick: tick, axisLabel: { show: false }, splitLine: { show: false }
  });
  const yi = yAxes.length;
  yAxes.push({
    gridIndex: g, type: 'value', min: cfg.min, max: cfg.max, interval: cfg.minor, position: 'left',
    axisLine: frame, axisTick: tick, splitLine: { show: false },
    axisLabel: {
      margin: 14, fontSize: 13, color: '#111', fontFamily: FONT,
      formatter: v => (cfg.labels.indexOf(v) >= 0 ? String(v).replace('-', '\u2212') : '')
    },
    name: cfg.name, nameLocation: 'middle', nameGap: cfg.nameGap, nameRotate: 90,
    nameTextStyle: { fontSize: 18.5, color: '#111', fontFamily: FONT }
  });
  yAxes.push({
    gridIndex: g, type: 'value', min: cfg.min, max: cfg.max, interval: cfg.minor, position: 'right',
    axisLine: frame, axisTick: tick, axisLabel: { show: false }, splitLine: { show: false }
  });
  yAxes.push({
    gridIndex: g, type: 'value', min: cfg.min, max: cfg.max, position: 'left',
    axisLine: { show: false, onZero: false }, splitLine: { show: false }, axisLabel: { show: false },
    axisTick: { show: true, length: 7, customValues: cfg.labels, lineStyle: { color: '#333', width: 1 } }
  });

  // reference lines: day boundaries and labelled levels
  const gridLines = dayLines.map(d => ({ xAxis: d, lineStyle: { color: '#505050', width: 1.7, type: 'solid' } }))
    .concat(cfg.labels.filter(v => v > cfg.min && v < cfg.max)
      .map(v => ({ yAxis: v, lineStyle: { color: '#000', width: 1, type: 'solid' } })));
  series.push({
    type: 'line', name: '_grid' + g, data: [], xAxisIndex: xi, yAxisIndex: yi, silent: true, z: 1,
    markLine: { silent: true, z: 1, symbol: ['none', 'none'], label: { show: false }, animation: false, data: gridLines }
  });

  cfg.series.forEach(s => {
    if (s.dots) {
      series.push({ type: 'scatter', name: s.name, data: s.data, xAxisIndex: xi, yAxisIndex: yi,
        symbolSize: 6, itemStyle: { color: s.color }, z: 3, animation: false, clip: true });
    } else {
      series.push({ type: 'line', name: s.name, data: s.data, xAxisIndex: xi, yAxisIndex: yi,
        showSymbol: false, symbol: 'none', connectNulls: false, clip: true,
        lineStyle: { color: s.color, width: s.width || 1.8 }, itemStyle: { color: s.color }, z: 3, animation: false });
    }
  });

  // one legend entry per series, placed at its own x position
  const dots = !!cfg.series[0].dots;
  cfg.series.forEach((s, k) => {
    legends.push({
      left: cfg.legend.x[k], top: ROWS[row].top - cfg.legend.up, orient: 'horizontal', padding: 0,
      itemWidth: dots ? 6 : 20, itemHeight: dots ? 6 : 2, icon: dots ? 'circle' : 'rect',
      itemStyle: { borderWidth: 0 },
      textStyle: { fontSize: 13, color: '#111', fontFamily: FONT },
      data: [s.name]
    });
  });
}

const obsWindFrSeries = obsWindFr.map((v, i) => [obsWindFrStart + i, v]);

const columns = [
  { site: 'Freiburg', temp: [ecmwfTempFr, mm5d1TempFr, mm5d5TempFr, obsTempFr], tmin: -2, tmax: 18, tlabels: [0, 5, 10, 15],
    wind: [ecmwfWindFr, mm5d1WindFr, mm5d5WindFr, obsWindFrSeries], dir: [ecmwfDirFr, mm5d1DirFr, mm5d5DirFr, obsDirFr],
    lg: [[113, 255, 396, 537], [113, 254, 395, 536], [121, 263, 403, 543], [112, 417]] },
  { site: 'Schauinsland', temp: [ecmwfTempSch, mm5d1TempSch, mm5d5TempSch, obsTempSch], tmin: -8, tmax: 14, tlabels: [-5, 0, 5, 10],
    wind: [ecmwfWindSch, mm5d1WindSch, mm5d5WindSch, obsWindSch], dir: [ecmwfDirSch, mm5d1DirSch, mm5d5DirSch, obsDirSch],
    lg: [[815, 964, 1112, 1263], [816, 958, 1098, 1238], [823, 965, 1104, 1245], [816, 1121]] }
];

columns.forEach((c, col) => {
  addPanel(col, 0, {
    min: c.tmin, max: c.tmax, minor: 1, labels: c.tlabels, name: 'Temperatur [°C]', nameGap: 45,
    legend: { up: 29, x: c.lg[0] },
    series: [
      { name: 'ECMWF', data: c.temp[0], color: C_ECMWF },
      { name: 'MM5(D1)', data: c.temp[1], color: C_D1 },
      { name: 'MM5(D5)', data: c.temp[2], color: C_D5 },
      { name: c.site, data: c.temp[3], color: C_OBS, width: 2.2 }
    ]
  });
  addPanel(col, 1, {
    min: 0, max: 6, minor: 1, labels: [0, 5], name: 'Windgeschw. [m/s]', nameGap: 37,
    legend: { up: 29, x: c.lg[1] },
    series: [
      { name: 'ECMWF', data: c.wind[0], color: C_ECMWF },
      { name: 'MM5(D1)', data: c.wind[1], color: C_D1 },
      { name: 'MM5(D5)', data: c.wind[2], color: C_D5 },
      { name: c.site + ' Obs.', data: c.wind[3], color: C_OBS, width: 2.2 }
    ]
  });
  addPanel(col, 2, {
    min: 0, max: 360, minor: 60, labels: [0, 60, 120, 180, 240, 300, 360], name: 'Windrichtung [°]', nameGap: 53,
    legend: { up: 22, x: c.lg[2] },
    series: [
      { name: 'ECMWF', data: c.dir[0], color: C_ECMWF, dots: true },
      { name: 'MM5(D1)', data: c.dir[1], color: C_D1, dots: true },
      { name: 'MM5(D5)', data: c.dir[2], color: C_D5, dots: true },
      { name: c.site + ' Obs.', data: c.dir[3], color: C_OBS, dots: true }
    ]
  });
  addPanel(col, 3, {
    min: -2, max: 14, minor: 1, labels: [0, 5, 10], name: 'ΔΘ [K]', nameGap: 49,
    legend: { up: 23, x: c.lg[3] },
    series: [
      { name: 'Obs. (Schauinsland \u2013 Freiburg)', data: obsDTheta, color: C_OBS, width: 2 },
      { name: 'MM5\u2013D5 (Schauinsland \u2013 Freiburg)', data: mm5DTheta, color: C_RED, width: 2 }
    ]
  });
});

const chart = echarts.init(document.getElementById('chart'), null, { renderer: 'canvas' });
chart.setOption({
  backgroundColor: '#fff',
  animation: false,
  textStyle: { fontFamily: FONT },
  graphic: [{
    type: 'text', x: 0, y: -24, silent: true,
    style: { text: 'Temperature, Wind Stability (Mountain \u2013 Valley)', font: '58px ' + FONT, fill: '#000', verticalAlign: 'middle' }
  }],
  grid: grids, xAxis: xAxes, yAxis: yAxes, legend: legends, series: series
});
</script>
</body>
</html>
